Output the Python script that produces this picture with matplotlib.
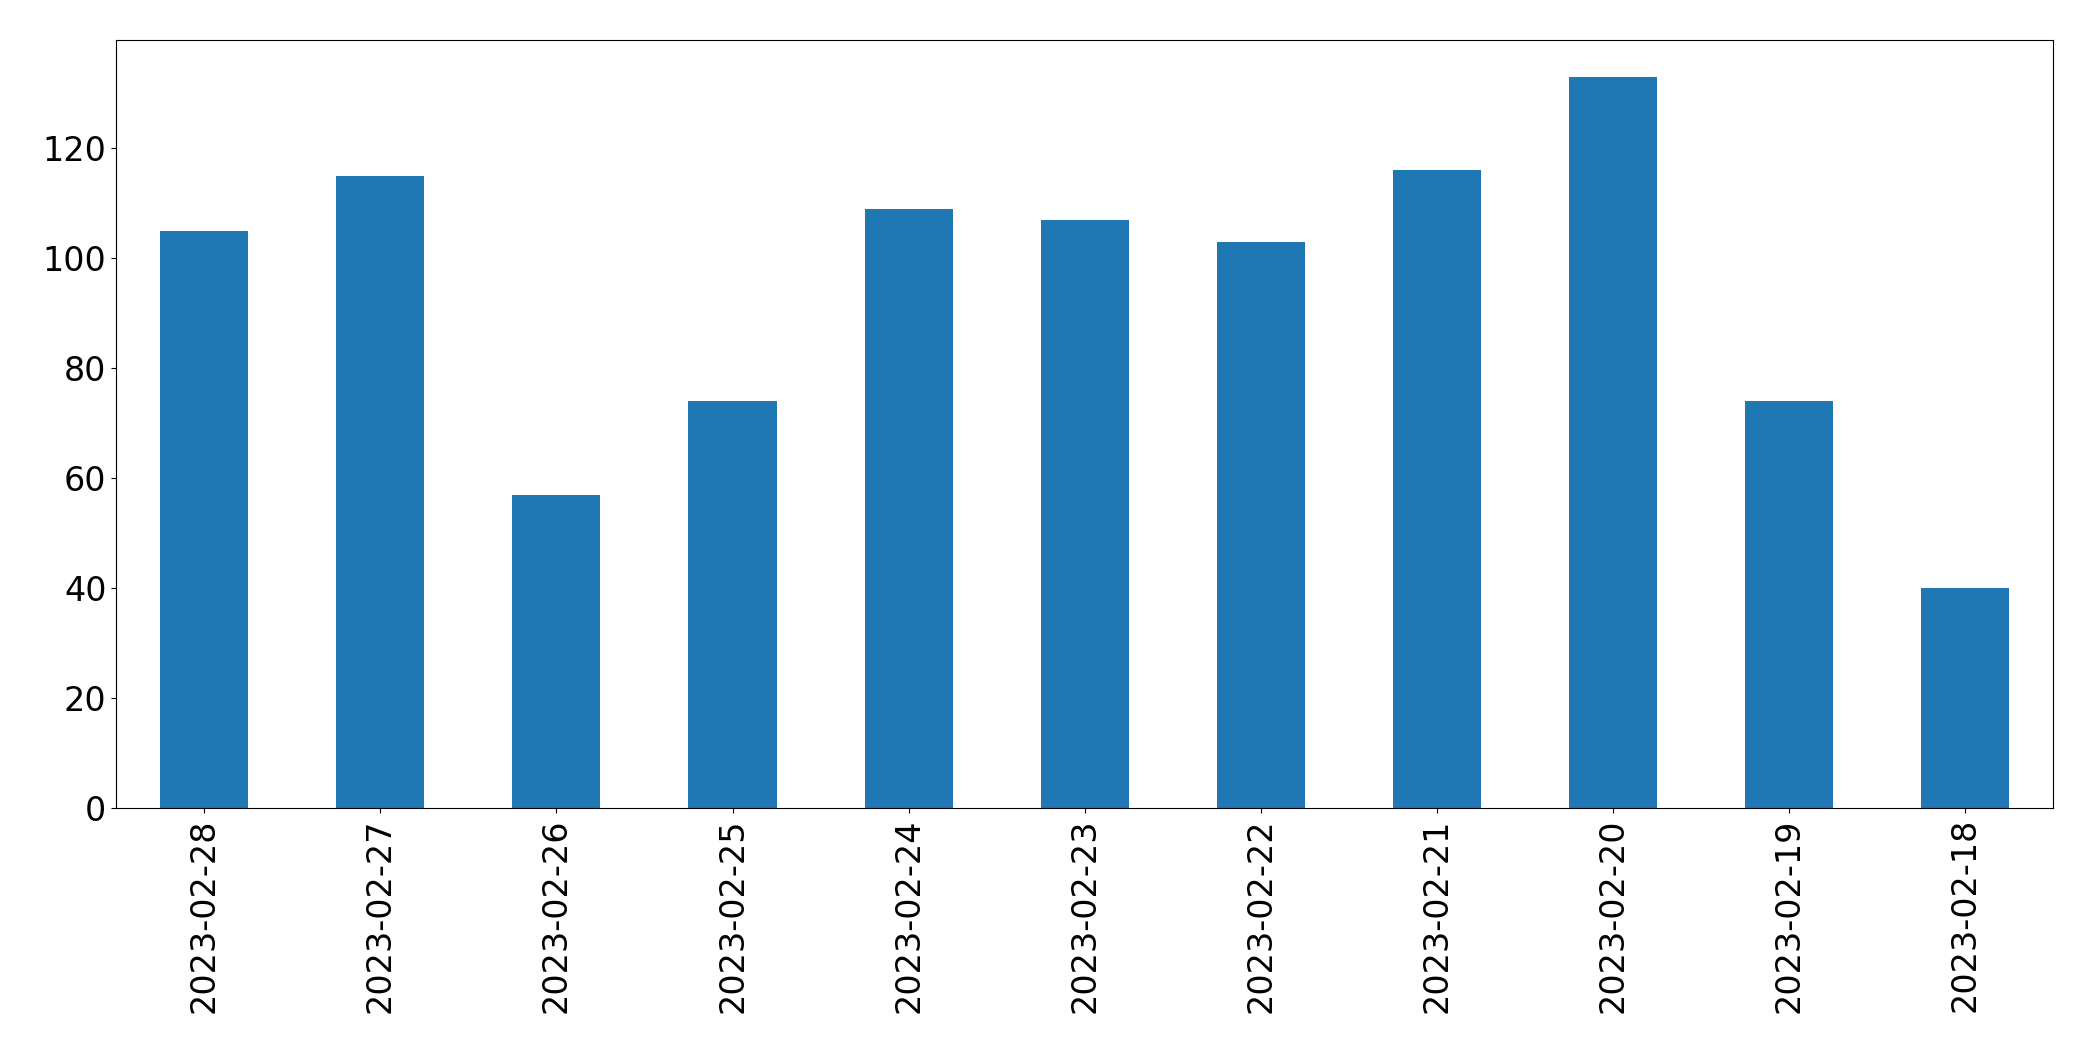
import matplotlib
matplotlib.use('Agg')
import matplotlib.pyplot as plt
import numpy as np

# Daily counts, newest first
dates = ['2023-02-28', '2023-02-27', '2023-02-26', '2023-02-25', '2023-02-24',
         '2023-02-23', '2023-02-22', '2023-02-21', '2023-02-20', '2023-02-19',
         '2023-02-18']
counts = [105, 115, 57, 74, 109, 107, 103, 116, 133, 74, 40]

fig = plt.figure(figsize=(20.93, 10.61), dpi=100)
ax = fig.add_axes([0.0555, 0.238, 0.9255, 0.724])

x = np.arange(len(dates))
ax.bar(x, counts, width=0.5, color='#1f77b4')
ax.set_xlim(-0.5, len(dates) - 0.5)
ax.set_xticks(x)
ax.set_xticklabels(dates, rotation=90, fontsize=24)
ax.tick_params(axis='y', labelsize=24)
ax.set_yticks(range(0, 121, 20))

fig.savefig('out.png')
